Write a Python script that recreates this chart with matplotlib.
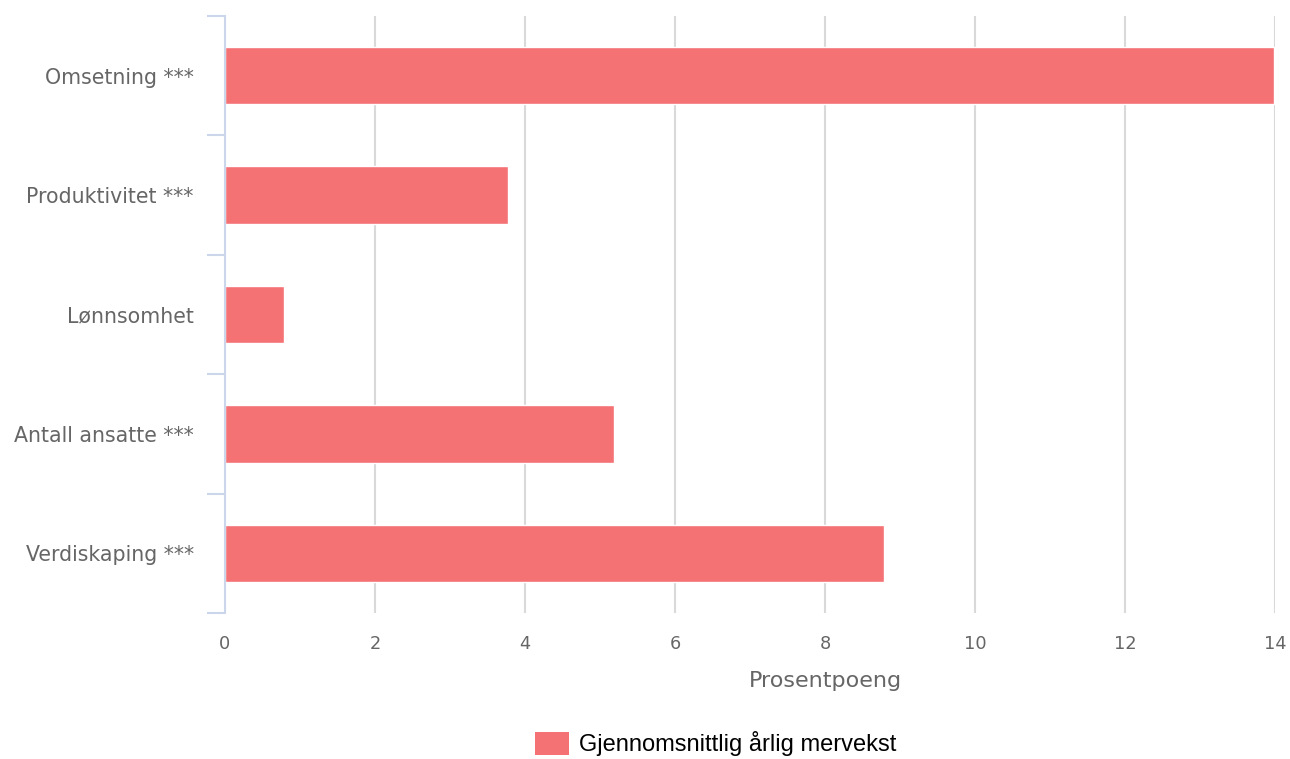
import matplotlib
matplotlib.use("Agg")
import matplotlib.pyplot as plt
from matplotlib.patches import Patch

# data
categories = ["Omsetning ***", "Produktivitet ***", "Lønnsomhet",
              "Antall ansatte ***", "Verdiskaping ***"]
values = [13.99, 3.77, 0.78, 5.19, 8.79]
x_ticks = [0, 2, 4, 6, 8, 10, 12, 14]
series_name = "Gjennomsnittlig årlig mervekst"

bar_color = "#f47174"
axis_color = "#ccd6eb"
grid_color = "#d9d9d9"
label_color = "#666666"

plt.rcParams['font.family'] = ['DejaVu Sans']

fig = plt.figure(figsize=(12.9, 7.59), dpi=100)
ax = fig.add_axes([225 / 1290, 1 - 613 / 759, 1050 / 1290, 597 / 759])

pos = list(range(len(categories)))
ax.barh(pos, values, height=0.48, color=bar_color, edgecolor="white",
        linewidth=1, zorder=3)

ax.set_xlim(0, 14)
ax.set_ylim(len(categories) - 0.5, -0.5)
ax.set_xticks(x_ticks)
ax.set_xticklabels([str(t) for t in x_ticks])
ax.grid(axis="x", color=grid_color, linewidth=1.5, zorder=0)

# category labels, ticks at the boundaries
ax.set_yticks(pos)
ax.set_yticklabels(categories)
ax.set_yticks([p - 0.5 for p in pos] + [len(pos) - 0.5], minor=True)
ax.tick_params(axis="y", which="major", length=0, pad=22.5,
               labelsize=14.8, labelcolor=label_color)
ax.tick_params(axis="y", which="minor", length=13, width=1.5, color=axis_color)
ax.tick_params(axis="x", length=0, pad=16, labelsize=12.8, labelcolor=label_color)

for side in ["top", "right", "bottom"]:
    ax.spines[side].set_visible(False)
ax.spines["left"].set_color(axis_color)
ax.spines["left"].set_linewidth(1.5)
ax.spines["left"].set_zorder(4)

ax.set_xlabel("Prosentpoeng", fontsize=16, color=label_color, va="center")
ax.xaxis.set_label_coords((825 - 225) / 1050, (613 - 681) / 597)

handles = [Patch(facecolor=bar_color, edgecolor="none", label=series_name)]
fig.legend(handles=handles, loc="center", bbox_to_anchor=(716 / 1290, 1 - 744 / 759),
           frameon=False, prop={"family": "Liberation Sans", "size": 17},
           handlelength=1.4, handleheight=1.1, handletextpad=0.45)

fig.savefig("out.png", dpi=100, facecolor="white")
